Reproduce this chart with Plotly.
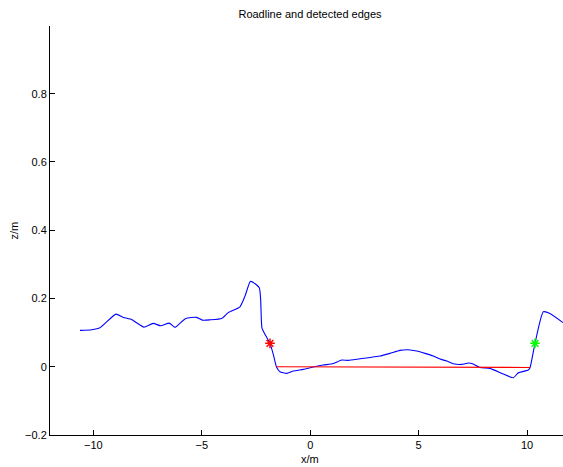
import plotly.graph_objects as go

# Road surface profile (lateral position x in metres, height z in metres)
road_x = [-10.618, -10.078, -9.696, -8.957, -8.621, -8.233, -8.003, -7.666, -7.237, -6.896,
          -6.499, -6.236, -5.743, -5.235, -4.977, -4.622, -4.082, -3.778, -3.238, -3.007,
          -2.763, -2.625, -2.348, -2.283, -2.223, -2.039, -1.854, -1.693, -1.554, -1.393,
          -1.084, -0.780, -0.318, 0.143, 0.604, 1.066, 1.453, 1.757, 2.297, 2.680,
          3.220, 3.681, 4.142, 4.525, 4.912, 5.295, 5.678, 5.987, 6.296, 6.601,
          6.988, 7.292, 7.463, 7.832, 8.293, 8.907, 9.368, 9.599, 10.060, 10.138,
          10.369, 10.752, 11.061, 11.661]
road_z = [0.1065, 0.1083, 0.1141, 0.1542, 0.1446, 0.1387, 0.1288, 0.1162, 0.1270, 0.1200,
          0.1279, 0.1153, 0.1416, 0.1446, 0.1367, 0.1375, 0.1416, 0.1586, 0.1756, 0.2069,
          0.2499, 0.2470, 0.2318, 0.1952, 0.1133, 0.0898, 0.0685, 0.0342, -0.0009, -0.0146,
          -0.0193, -0.0126, -0.0076, -0.0009, 0.0050, 0.0094, 0.0196, 0.0187, 0.0234, 0.0263,
          0.0313, 0.0392, 0.0480, 0.0498, 0.0459, 0.0392, 0.0313, 0.0225, 0.0167, 0.0088,
          0.0070, 0.0108, 0.0094, -0.0018, -0.0047, -0.0214, -0.0322, -0.0176, -0.0097, -0.0029,
          0.0685, 0.1610, 0.1563, 0.1294]

# Carriageway baseline between the road foot points
base_x = [-1.554, 10.138]
base_z = [0.0, -0.002]

# Detected edges
left_edge = (-1.854, 0.0685)
right_edge = (10.369, 0.0685)

x_tickvals = [-10, -5, 0, 5, 10]
x_ticktext = ["\u221210", "\u22125", "0", "5", "10"]
y_tickvals = [-0.2, 0, 0.2, 0.4, 0.6, 0.8]
y_ticktext = ["\u22120.2", "0", "0.2", "0.4", "0.6", "0.8"]

FONT = "Liberation Sans, Arial, Helvetica, sans-serif"

fig = go.Figure()
fig.add_trace(go.Scatter(x=road_x, y=road_z, mode="lines",
                         line=dict(color="#0000ff", width=1.1, shape="spline", smoothing=0.5),
                         hoverinfo="skip"))
fig.add_trace(go.Scatter(x=base_x, y=base_z, mode="lines",
                         line=dict(color="#ff0000", width=1.1), hoverinfo="skip"))
fig.add_trace(go.Scatter(x=[left_edge[0]], y=[left_edge[1]], mode="markers",
                         marker=dict(symbol="asterisk-open", size=8, color="#ff0000",
                                     line=dict(color="#ff0000", width=1.5))))
fig.add_trace(go.Scatter(x=[right_edge[0]], y=[right_edge[1]], mode="markers",
                         marker=dict(symbol="asterisk-open", size=8, color="#00ff00",
                                     line=dict(color="#00ff00", width=1.5))))

W, H = 563, 467
L, R, T, B = 50, 0, 25.5, 32
plot_w = W - L - R
plot_h = H - T - B

fig.update_layout(
    width=W, height=H,
    margin=dict(l=L, r=R, t=T, b=B, pad=0),
    paper_bgcolor="white", plot_bgcolor="white",
    showlegend=False,
    font=dict(family=FONT, size=11, color="black"),
    title=dict(text="Roadline and detected edges", x=310 / W, xref="container",
               xanchor="center", y=1 - 14 / H, yref="container", yanchor="middle",
               font=dict(family=FONT, size=11, color="black")),
    xaxis=dict(range=[-12, 11.66], showgrid=False, zeroline=False,
               showline=True, linecolor="black", linewidth=1, mirror=False,
               ticks="inside", ticklen=5, tickwidth=1, tickcolor="black",
               tickvals=x_tickvals, ticktext=x_ticktext,
               tickfont=dict(family=FONT, size=11, color="black")),
    yaxis=dict(range=[-0.2, 0.9985], showgrid=False, zeroline=False,
               showline=True, linecolor="black", linewidth=1, mirror=False,
               ticks="inside", ticklen=5, tickwidth=1, tickcolor="black",
               tickvals=y_tickvals, ticktext=y_ticktext,
               tickfont=dict(family=FONT, size=11, color="black")),
    annotations=[
        dict(text="x/m", xref="paper", yref="paper",
             x=(310 - L) / plot_w, y=-(459 - (H - B)) / plot_h,
             xanchor="center", yanchor="middle", showarrow=False,
             font=dict(family=FONT, size=11, color="black")),
        dict(text="z/m", xref="paper", yref="paper",
             x=-(L - 13) / plot_w, y=0.5, textangle=-90,
             xanchor="center", yanchor="middle", showarrow=False,
             font=dict(family=FONT, size=11, color="black")),
    ],
)

fig.write_html("out.html")
